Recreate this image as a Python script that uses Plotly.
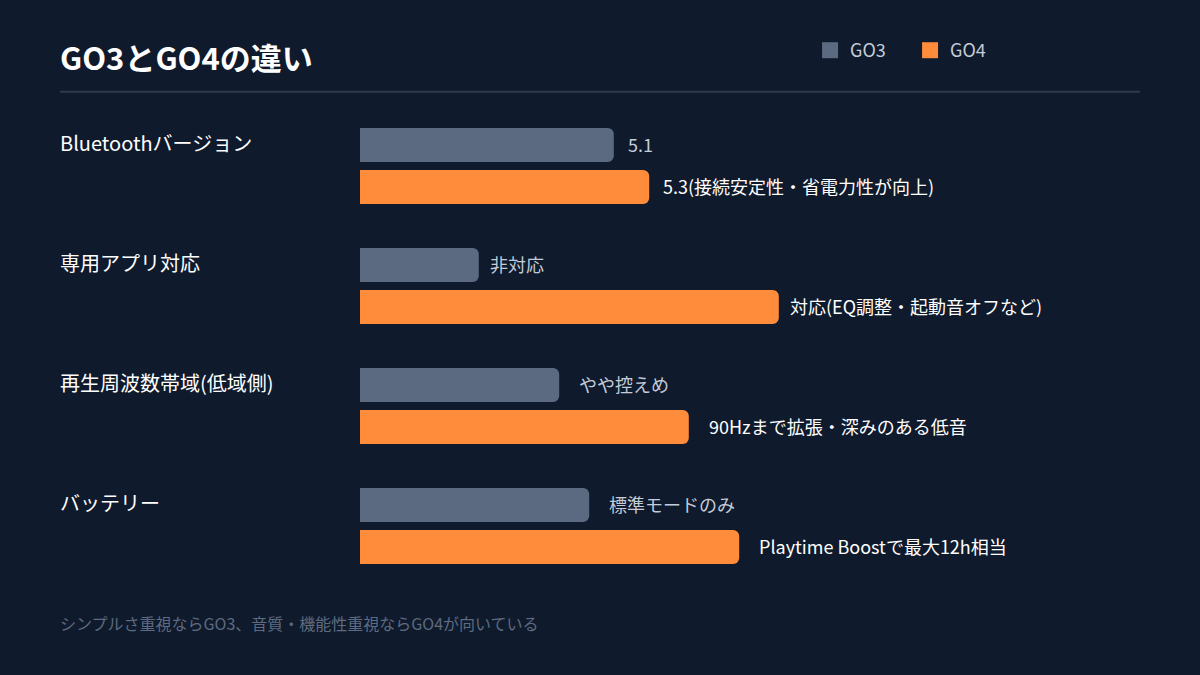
import plotly.graph_objects as go

categories = ["Bluetoothバージョン", "専用アプリ対応", "再生周波数帯域(低域側)", "バッテリー"]
go3_values = [42.3, 19.8, 33.2, 38.2]
go4_values = [48.2, 69.8, 54.8, 63.2]
go3_labels = ["5.1", "非対応", "やや控えめ", "標準モードのみ"]
go4_labels = ["5.3(接続安定性・省電力性が向上)", "対応(EQ調整・起動音オフなど)",
              "90Hzまで拡張・深みのある低音", "Playtime Boostで最大12h相当"]
series_names = ["GO3", "GO4"]
title_text = "GO3とGO4の違い"
footnote_text = "シンプルさ重視ならGO3、音質・機能性重視ならGO4が向いている"

BG = "#0f1a2c"
C_GO3 = "#5b6a80"
C_GO4 = "#ff8c3b"
FONT = "Noto Sans CJK JP"
label_gaps = [12, 9, 18, 18]

fig = go.Figure()
fig.add_trace(go.Bar(y=categories, x=go3_values, orientation="h", name=series_names[0],
                     marker=dict(color=C_GO3, line=dict(width=0)), showlegend=False, hoverinfo="skip"))
fig.add_trace(go.Bar(y=categories, x=go4_values, orientation="h", name=series_names[1],
                     marker=dict(color=C_GO4, line=dict(width=0)), showlegend=False, hoverinfo="skip"))
# legend entries
for nm, col in zip(series_names, [C_GO3, C_GO4]):
    fig.add_trace(go.Scatter(x=[None], y=[None], mode="markers", name=nm,
                             marker=dict(symbol="square", size=20, color=col)))

annotations = []
for i, cat in enumerate(categories):
    annotations.append(dict(xref="paper", x=0, xshift=-302, yref="y", y=cat, yshift=23.5,
                            text=cat, showarrow=False, xanchor="left", yanchor="middle",
                            font=dict(size=20, color="#ffffff", family=FONT)))
    annotations.append(dict(xref="x", x=go3_values[i], xshift=label_gaps[i], yref="y", y=cat, yshift=22.2,
                            text=go3_labels[i], showarrow=False, xanchor="left", yanchor="middle",
                            font=dict(size=18, color="#c3ccd8", family=FONT)))
    annotations.append(dict(xref="x", x=go4_values[i], xshift=label_gaps[i], yref="y", y=cat, yshift=-19.5,
                            text=go4_labels[i], showarrow=False, xanchor="left", yanchor="middle",
                            font=dict(size=18, color="#ffffff", family=FONT)))

annotations.append(dict(xref="paper", x=0, xshift=-302, yref="paper", y=1, yshift=49.5,
                        text="<b>" + title_text + "</b>", showarrow=False, xanchor="left", yanchor="middle",
                        font=dict(size=31, color="#ffffff", family=FONT)))
annotations.append(dict(xref="paper", x=0, xshift=-302, yref="paper", y=0, yshift=-36.5,
                        text=footnote_text, showarrow=False, xanchor="left", yanchor="middle",
                        font=dict(size=16, color="#5d6b80", family=FONT)))

fig.update_layout(
    width=1200, height=675,
    paper_bgcolor=BG, plot_bgcolor=BG,
    margin=dict(l=360, r=60, t=105.7, b=89.3, pad=0),
    barmode="group", bargap=0.3, bargroupgap=0.1905, barcornerradius=6,
    xaxis=dict(range=[0, 130], visible=False, fixedrange=True),
    yaxis=dict(categoryorder="array", categoryarray=categories, autorange="reversed",
               visible=False, fixedrange=True),
    showlegend=True,
    legend=dict(orientation="h", x=0.577, xanchor="left", y=1.1156, yanchor="middle",
                font=dict(size=18, color="#c3ccd8", family=FONT),
                bgcolor="rgba(0,0,0,0)", entrywidth=55, entrywidthmode="pixels",
                itemclick=False, itemdoubleclick=False),
    annotations=annotations,
    shapes=[dict(type="line", xref="paper", yref="paper", x0=-300/780, x1=1,
                 y0=(585.3 - 91) / 480, y1=(585.3 - 91) / 480,
                 line=dict(color="#2c3b4d", width=2))],
    font=dict(family=FONT),
)

fig.write_html("out.html", config={"displayModeBar": False},
               post_script="document.body.style.margin='0';document.body.style.overflow='hidden';document.body.style.background='" + BG + "';")
